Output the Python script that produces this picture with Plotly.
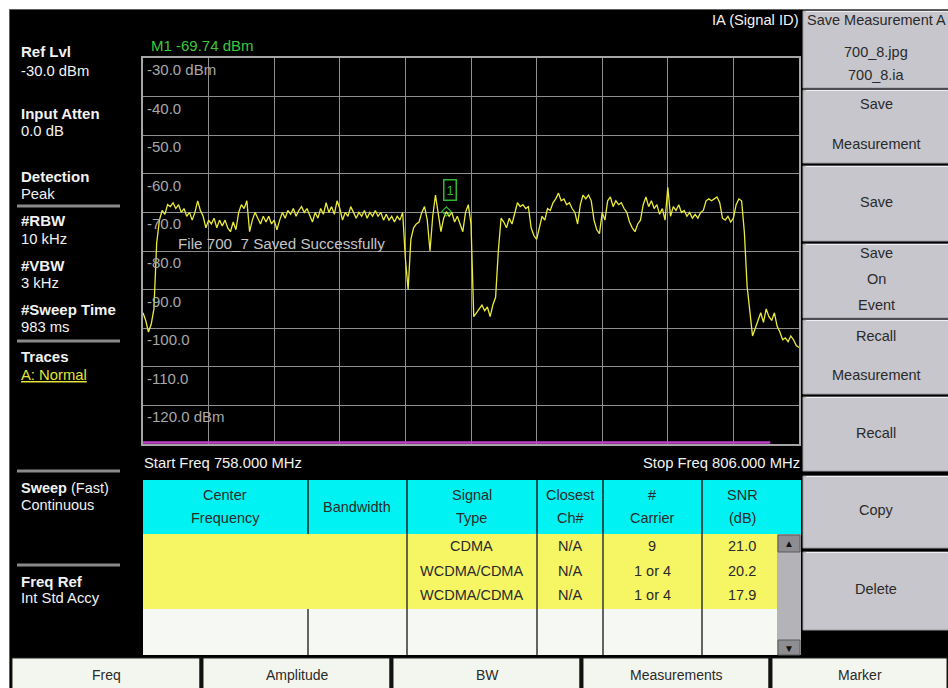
import plotly.graph_objects as go

# ---------------- data ----------------
freq_start_mhz = 758.0
freq_stop_mhz = 806.0
freq_step_mhz = 0.2
trace_dbm = [
    -96, -98, -101, -99, -95, -78, -72, -69.5, -70.5, -68,
    -68.5, -67.5, -69, -68, -70, -69, -71, -70, -72, -70,
    -67, -69.5, -71, -74, -72, -73, -71.5, -74, -72, -73.5,
    -72, -74, -75, -72.5, -74.5, -70, -68, -69, -67, -75,
    -72, -70, -71.5, -73, -71, -72.5, -71, -73, -72, -74.5,
    -72, -70, -71.5, -69.5, -70.5, -69, -71, -69.5, -68.5, -70,
    -69, -71, -72.5, -70, -71.5, -69, -70.5, -67.5, -70, -68.5,
    -70.5, -67, -69, -72, -70, -71, -68.5, -70, -71.5, -70,
    -71, -69.5, -71.5, -70, -71, -69.5, -71, -70, -72, -70.5,
    -72, -71, -72.5, -71, -72, -70, -82, -90, -77, -74,
    -73, -72.5, -70, -68.5, -72, -80, -71, -65.5, -70, -75,
    -71.5, -69.8, -71, -70, -72.5, -71, -73, -75, -70, -68,
    -73, -97, -96, -95, -94, -95.5, -94.5, -97, -94, -92,
    -80, -71.5, -72.5, -74, -71.5, -73, -70, -67.5, -68.5, -68,
    -69, -68.5, -74, -76, -77, -74, -71, -72, -69, -69.5,
    -67.5, -66.5, -65, -67, -66.5, -68, -67.5, -69, -70, -73,
    -68, -65.5, -66.5, -65.5, -67, -72, -74.5, -75.5, -70, -72,
    -67, -66, -68.5, -67, -68, -67.5, -69, -70, -72.5, -74,
    -75, -73, -72, -68, -66, -68.5, -67, -69, -68, -70.5,
    -69, -72, -63.5, -71, -68.5, -69.5, -68, -70, -69.5, -71,
    -70, -71.5, -70.5, -71.5, -70, -69.5, -67, -66.5, -67, -66.5,
    -66, -67.5, -71.5, -72, -71, -72.5, -71.5, -68, -66.5, -67,
    -75, -89, -95.5, -102, -100, -98, -96, -98.5, -95, -97,
    -98, -96, -99.5, -101, -103, -102.5, -103.5, -102, -103, -104.5, -105,
]
freqs_mhz = [freq_start_mhz + freq_step_mhz * i for i in range(len(trace_dbm))]

ref_level_dbm = -30.0
bottom_dbm = -130.0
y_label_values = [-30, -40, -50, -60, -70, -80, -90, -100, -110, -120]
y_label_text = ["-30.0 dBm", "-40.0", "-50.0", "-60.0", "-70.0", "-80.0",
                "-90.0", "-100.0", "-110.0", "-120.0 dBm"]
marker_freq_mhz = 780.2
marker_dbm = -69.74

left_labels = [("Ref Lvl", "-30.0 dBm"), ("Input Atten", "0.0 dB"), ("Detection", "Peak"),
               ("#RBW", "10 kHz"), ("#VBW", "3 kHz"), ("#Sweep Time", "983 ms")]

hdr_top = ["Center", "Bandwidth", "Signal", "Closest", "#", "SNR"]
hdr_bottom = ["Frequency", "", "Type", "Ch#", "Carrier", "(dB)"]
signal_types = ["CDMA", "WCDMA/CDMA", "WCDMA/CDMA"]
closest_ch = ["N/A", "N/A", "N/A"]
carriers = ["9", "1 or 4", "1 or 4"]
snr_db = ["21.0", "20.2", "17.9"]

softkeys = [["Save Measurement A", "700_8.jpg", "700_8.ia"], ["Save", "Measurement"],
            ["Save"], ["Save", "On", "Event"], ["Recall", "Measurement"], ["Recall"],
            ["Copy"], ["Delete"]]
bottom_menu = ["Freq", "Amplitude", "BW", "Measurements", "Marker"]

# ---------------- layout helpers ----------------
W, H = 948, 688
L, R, T, B = 143, 799, 58, 444
FONT = "Liberation Sans, Arial, sans-serif"


def px(x):
    return (x - L) / (R - L)


def py(y):
    return (B - y) / (B - T)


shapes = []
annots = []


def rect(x0, y0, x1, y1, fill, lc=None, lw=0, layer="above"):
    shapes.append(dict(type="rect", xref="paper", yref="paper", x0=px(x0), x1=px(x1),
                       y0=py(y1), y1=py(y0), fillcolor=fill, layer=layer,
                       line=dict(color=lc or fill, width=lw)))


def hline(x0, x1, y, color, w):
    shapes.append(dict(type="line", xref="paper", yref="paper", x0=px(x0), x1=px(x1),
                       y0=py(y), y1=py(y), line=dict(color=color, width=w), layer="above"))


def vline(x, y0, y1, color, w):
    shapes.append(dict(type="line", xref="paper", yref="paper", x0=px(x), x1=px(x),
                       y0=py(y0), y1=py(y1), line=dict(color=color, width=w), layer="above"))


def txt(s, x, y, anchor="left", color="#f2f2f2", size=14.5, bold=False, **fkw):
    annots.append(dict(text=f"<b>{s}</b>" if bold else s, x=px(x), y=py(y), xref="paper",
                       yref="paper", xanchor=anchor, yanchor="middle", showarrow=False,
                       borderpad=0,
                       font=dict(color=color, size=size, family=FONT, **fkw)))


# outer white frame
rect(0, 0, W, 9, "#ffffff")
rect(0, 0, 9, H, "#ffffff")
hline(9, W, 9.5, "#606060", 1)
vline(9.5, 9, H, "#606060", 1)

# top texts
txt("IA (Signal ID)", 800, 20, anchor="right", size=14.7)
txt("M1 -69.74 dBm", 150, 46, color="#3cc83c", size=15)

# left panel
left_y = [(52, 71), (114, 131), (176, 194), (220, 239), (265, 283), (309, 327)]
for (lab, val), (y1, y2) in zip(left_labels, left_y):
    txt(lab, 20, y1, bold=True, size=15)
    txt(val, 20, y2, size=14.8)
for ys in (206, 341, 471, 565):
    hline(17, 120, ys, "#8a8a8a", 3)
txt("Traces", 20, 356, bold=True, size=15)
txt("A: Normal", 20, 375, color="#e4e43a", size=14.8, lineposition="under")
txt("<b>Sweep</b> (Fast)", 20, 487.5, size=14.5)
txt("Continuous", 20, 505, size=14.5)
txt("Freq Ref", 20, 581, bold=True, size=15)
txt("Int Std Accy", 20, 598, size=14.8)

# y labels inside the grid
for v, s in zip(y_label_values, y_label_text):
    annots.append(dict(text=s, x=px(146), y=v, xref="paper", yref="y", xanchor="left",
                       yanchor="top", showarrow=False, yshift=-2, borderpad=0,
                       font=dict(color="#a8a8a8", size=15, family=FONT)))

txt("File 700_7 Saved Successfully", 177, 243, color="#c4c4c4", size=15.2)
txt("Start Freq 758.000 MHz", 143, 463, size=14.8)
txt("Stop Freq 806.000 MHz", 801, 463, anchor="right", size=14.8)

# limit line (magenta) at bottom of graticule
shapes.append(dict(type="line", xref="x", yref="y", x0=freq_start_mhz, x1=803.9,
                   y0=-129.6, y1=-129.6, line=dict(color="#c040c8", width=2.5), layer="above"))

# table
col_x = [143, 308, 407, 537, 603, 702, 801]
rect(143, 480, 801, 534, "#00f2f2")
rect(143, 534, 777, 609, "#f6f664")
rect(143, 609, 777, 655, "#f6f8f3")
for x in col_x[1:-1]:
    vline(x, 480, 534, "#222222", 1.5)
    vline(x, 609, 655, "#333333", 1.5)
    if x != 308:
        vline(x, 534, 609, "#333333", 1.5)
# scrollbar
rect(777, 534, 801, 655, "#b4b4b8")
rect(778, 535, 800, 552, "#8e8e92", lc="#5a5a5a", lw=1)
rect(778, 640, 800, 655, "#8e8e92", lc="#5a5a5a", lw=1)
txt("▲", 789, 543.5, anchor="center", color="#111111", size=10)
txt("▼", 789, 648, anchor="center", color="#111111", size=10)

centers = [225, 357, 472, 570, 652, 742]
for c, t1, t2 in zip(centers, hdr_top, hdr_bottom):
    if t2:
        txt(t1, c, 495, anchor="center", color="#2a2a2a")
        txt(t2, c, 518, anchor="center", color="#2a2a2a")
    else:
        txt(t1, c, 507, anchor="center", color="#2a2a2a")
row_y = [546, 571, 595]
for i, yy in enumerate(row_y):
    txt(signal_types[i], centers[2], yy, anchor="center", color="#2a2a2a")
    txt(closest_ch[i], centers[3], yy, anchor="center", color="#2a2a2a")
    txt(carriers[i], centers[4], yy, anchor="center", color="#2a2a2a")
    txt(snr_db[i], centers[5], yy, anchor="center", color="#2a2a2a")

# right softkeys
key_box = [(11, 88), (90, 163), (166, 241), (244, 318), (320, 394), (397, 471), (476, 548), (552, 630)]
key_text_y = [[20, 52, 75], [104, 144], [202], [253, 279, 305], [336, 375], [433], [510], [589]]
for (y0, y1), labels, ys in zip(key_box, softkeys, key_text_y):
    rect(803, y0, 952, y1, "#c6c6cc", lc="#9a9aa2", lw=1)
    hline(806, 950, y0 + 0.5, "#f0f0f4", 1)
    for lab, yy in zip(labels, ys):
        if lab.startswith("Save Measurement A"):
            txt(lab, 806, yy, anchor="left", color="#2a2a2a")
        else:
            txt(lab, 876, yy, anchor="center", color="#2a2a2a")

# bottom menu
menu_x = [10, 201, 391, 581, 770, 948]
for i, lab in enumerate(bottom_menu):
    rect(menu_x[i] + 2, 658, menu_x[i + 1] - 1, 690, "#f3f6ee", lc="#222222", lw=1)
    txt(lab, (menu_x[i] + menu_x[i + 1]) / 2 + 1, 675, anchor="center", color="#2a2a2a", size=14)
for xx in menu_x[1:-1]:
    vline(xx, 657, 688, "#111111", 3)

# marker box
annots.append(dict(text="1", x=marker_freq_mhz, y=marker_dbm, xref="x", yref="y",
                   showarrow=False, xshift=4, yshift=21, bordercolor="#2fb82f",
                   borderwidth=1.5, borderpad=2,
                   font=dict(color="#2fb82f", size=13, family=FONT)))

fig = go.Figure()
fig.add_trace(go.Scatter(x=freqs_mhz, y=trace_dbm, mode="lines",
                         line=dict(color="#eaea3c", width=1.3), hoverinfo="skip"))
fig.add_trace(go.Scatter(x=[marker_freq_mhz], y=[marker_dbm], mode="markers",
                         marker=dict(symbol="diamond-open", size=7, color="#2fb82f",
                                     line=dict(width=1.3)), hoverinfo="skip"))

fig.update_layout(
    width=W, height=H, autosize=False,
    margin=dict(l=L, r=W - R, t=T, b=H - B, pad=0),
    paper_bgcolor="#000000", plot_bgcolor="#000000",
    showlegend=False, shapes=shapes, annotations=annots,
    font=dict(family=FONT),
)
fig.update_xaxes(range=[freq_start_mhz, freq_stop_mhz], tick0=freq_start_mhz, dtick=4.8,
                 showgrid=True, gridcolor="#8e8e8e", gridwidth=1, zeroline=False,
                 showticklabels=False, ticks="", showline=True, mirror=True,
                 linecolor="#a6a6a6", linewidth=1.5, fixedrange=True)
fig.update_yaxes(range=[bottom_dbm, ref_level_dbm], tick0=bottom_dbm, dtick=10,
                 showgrid=True, gridcolor="#8e8e8e", gridwidth=1, zeroline=False,
                 showticklabels=False, ticks="", showline=True, mirror=True,
                 linecolor="#a6a6a6", linewidth=1.5, fixedrange=True)

fig.write_html("out.html", config={"displayModeBar": False},
               post_script="document.body.style.margin='0';document.body.style.overflow='hidden';")
